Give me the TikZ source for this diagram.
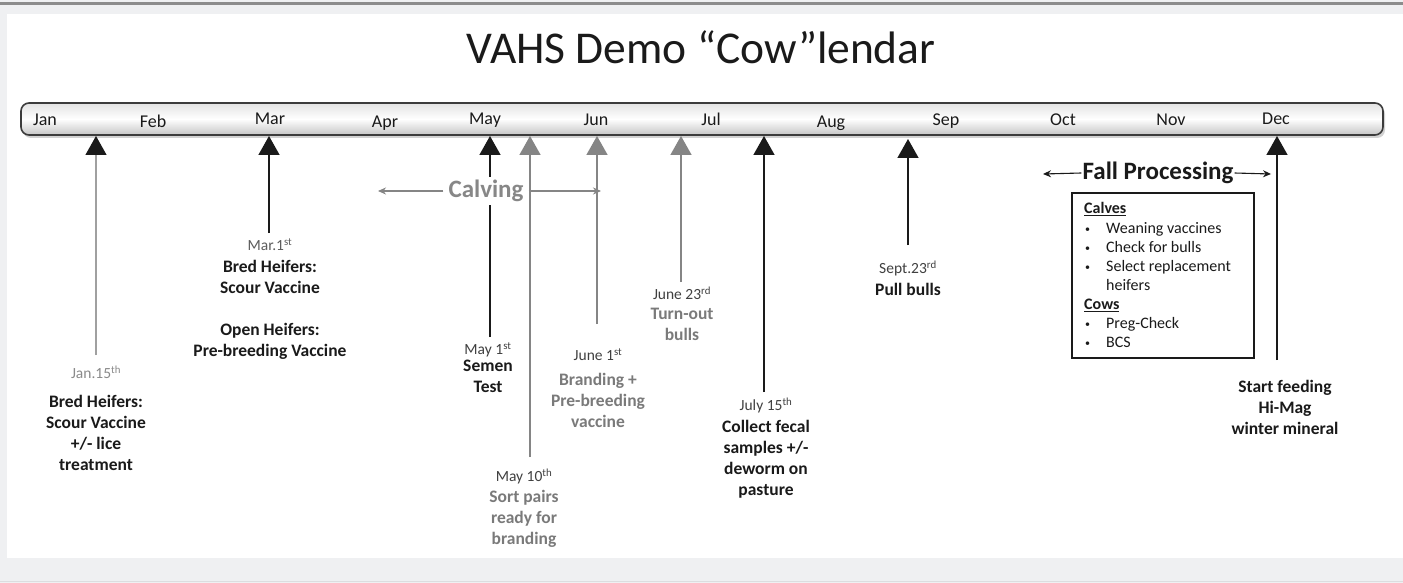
\documentclass[tikz,border=0pt]{standalone}
\usepackage{fontspec}
\setmainfont{Carlito}
\usetikzlibrary{arrows.meta,shadows}
\definecolor{pagegray}{HTML}{EFF0F2}
\definecolor{rulegray}{HTML}{8C8C8C}
\definecolor{inkblack}{HTML}{1A1A1A}
\definecolor{inkgray}{HTML}{858585}
\definecolor{thingray}{HTML}{A0A0A0}
\definecolor{txtgray}{HTML}{7A7A7A}
\definecolor{datedark}{HTML}{404040}
\definecolor{dategray}{HTML}{8A8A8A}
\newcommand{\smallbullet}{\makebox[22pt][l]{\hspace{1pt}\raisebox{1.5pt}{\fontsize{10}{10}\selectfont\textbullet}}}
\begin{document}
\begin{tikzpicture}[x=1pt,y=-1pt,
  month/.style={anchor=base,font=\fontsize{18}{20}\selectfont,text=inkblack,inner sep=0},
  datelbl/.style={anchor=north,font=\fontsize{15.5}{19}\selectfont,text=datedark,inner sep=0},
  body/.style={anchor=north,align=center,font=\bfseries\fontsize{17.5}{21}\selectfont,text=inkblack,inner sep=0},
  graybody/.style={body,text=txtgray},
  boxitem/.style={anchor=base west,font=\fontsize{16}{19}\selectfont,text=inkblack,inner sep=0},
  blackhead/.style={-{Triangle[width=21pt,length=19pt,fill=inkblack,color=inkblack]}},
  grayhead/.style={-{Triangle[width=21pt,length=19pt,fill=inkgray,color=inkgray]}},
  blackline/.style={blackhead,draw=inkblack,line width=1.5pt},
  grayline/.style={grayhead,draw=inkgray,line width=1.6pt},
  thinline/.style={blackhead,draw=thingray,line width=1.2pt},
  spanarrow/.style={-{Stealth[length=8pt,width=7pt]},line width=1.1pt}
]
\useasboundingbox (0,0) rectangle (1403,583);
% page frame
\fill[pagegray] (0,0) rectangle (1403,583);
\draw[rulegray,line width=3pt] (0,4) -- (1403,4);
\fill[white] (7,14) rectangle (1403,558);
\draw[pagegray!92!black,line width=1pt] (0,581) -- (1403,581);

% title
\node[anchor=base,font=\fontsize{45.5}{50}\selectfont,text=inkblack,inner sep=0] (title) at (701,64) {VAHS Demo “Cow”lendar};

% timeline bar
\path[rounded corners=8pt,draw=inkblack!85,line width=1.6pt,
  top color=gray!22,bottom color=gray!45,middle color=white,
  drop shadow={shadow xshift=2pt,shadow yshift=-3pt,opacity=0.35}]
  (21,103) rectangle (1383,135);
\node[name=bar,inner sep=0,minimum width=1362pt,minimum height=32pt] at (702,119) {};

% month labels
\node[month] (jan) at (45,126) {Jan};
\node[month] (feb) at (153,128) {Feb};
\node[month] (mar) at (270,125) {Mar};
\node[month] (apr) at (385,128) {Apr};
\node[month] (may) at (485,125) {May};
\node[month] (jun) at (596,126) {Jun};
\node[month] (jul) at (711,126) {Jul};
\node[month] (aug) at (831,128) {Aug};
\node[month] (sep) at (946,126) {Sep};
\node[month] (oct) at (1063,126) {Oct};
\node[month] (nov) at (1171,126) {Nov};
\node[month] (dec) at (1276,125) {Dec};

% arrow tips on the bar and the free ends of the event lines
\coordinate (tJan) at (96,136);   \coordinate (eJan) at (96,355);
\coordinate (tMar) at (269,136);  \coordinate (eMar) at (269,233);
\coordinate (tMayA) at (490,136); \coordinate (eMayA) at (490,337);
\coordinate (tMayB) at (530,136); \coordinate (eMayB) at (530,457);
\coordinate (tJunA) at (597,136); \coordinate (eJunA) at (597,324);
\coordinate (tJunB) at (681,136); \coordinate (eJunB) at (681,282);
\coordinate (tJul) at (764,136);  \coordinate (eJul) at (764,392);
\coordinate (tSep) at (908,139);  \coordinate (eSep) at (908,245);
\coordinate (tDec) at (1277,136); \coordinate (eDec) at (1277,360);

\draw[thinline] (eJan) -- (tJan);
\draw[blackline] (eMar) -- (tMar);
\draw[blackline] (eMayA) -- (tMayA);
\draw[grayline] (eMayB) -- (tMayB);
\draw[grayline] (eJunA) -- (tJunA);
\draw[grayline] (eJunB) -- (tJunB);
\draw[blackline] (eJul) -- (tJul);
\draw[blackline] (eSep) -- (tSep);
\draw[blackline] (eDec) -- (tDec);

% calving span
\node[fill=white,inner xsep=5pt,inner ysep=0,minimum height=28pt,
  font=\bfseries\fontsize{25}{28}\selectfont,text=txtgray!90] (calving) at (486,191) {Calving};
\coordinate (calvL) at (378,191);
\coordinate (calvR) at (601,191);
\draw[spanarrow,inkgray] (calving.west) -- (calvL);
\draw[spanarrow,inkgray] (calving.east) -- (calvR);

% fall processing span
\node[inner xsep=1pt,inner ysep=0,font=\bfseries\fontsize{25}{28}\selectfont,text=inkblack] (fall) at (1158,173) {Fall Processing};
\coordinate (fallL) at (1043,174);
\coordinate (fallR) at (1271,174);
\draw[spanarrow,inkblack] (fall.west) -- (fallL);
\draw[spanarrow,inkblack] (fall.east) -- (fallR);

% fall processing box
\node[draw=inkblack,line width=1.5pt,inner sep=0,minimum width=182pt,minimum height=165pt] (fallbox) at (1163,275.5) {};
\node[boxitem,font=\bfseries\fontsize{16}{19}\selectfont] (calves) at (1084,213.5) {\underline{Calves}};
\node[boxitem] (c1) at (1084,233.5) {\smallbullet Weaning vaccines};
\node[boxitem] (c2) at (1084,252.5) {\smallbullet Check for bulls};
\node[boxitem] (c3) at (1084,271.5) {\smallbullet Select replacement};
\node[boxitem] (c4) at (1084,290.5) {\makebox[22pt][l]{}heifers};
\node[boxitem,font=\bfseries\fontsize{16}{19}\selectfont] (cows) at (1084,309.5) {\underline{Cows}};
\node[boxitem] (w1) at (1084,328.5) {\smallbullet Preg-Check};
\node[boxitem] (w2) at (1084,347.5) {\smallbullet BCS};

% event annotations
\node[datelbl,text=dategray] (dJan) at (96,366) {Jan.15\textsuperscript{th}};
\node[body] (bJan) at (96,395) {Bred Heifers:\\Scour Vaccine\\+/- lice\\treatment};

\node[datelbl,text=datedark!85] (dMar) at (270,238) {Mar.1\textsuperscript{st}};
\node[body] (bMar) at (270,260) {Bred Heifers:\\Scour Vaccine\\[21pt]Open Heifers:\\Pre-breeding Vaccine};

\node[datelbl] (dMayA) at (488,342) {May 1\textsuperscript{st}};
\node[body] (bMayA) at (488,360) {Semen\\Test};

\node[datelbl] (dMayB) at (524,469) {May 10\textsuperscript{th}};
\node[graybody] (bMayB) at (524,490) {Sort pairs\\ready for\\branding};

\node[datelbl] (dJunA) at (598,348) {June 1\textsuperscript{st}};
\node[graybody] (bJunA) at (598,373) {Branding +\\Pre-breeding\\vaccine};

\node[datelbl] (dJunB) at (682,287) {June 23\textsuperscript{rd}};
\node[graybody] (bJunB) at (682,308) {Turn-out\\bulls};

\node[datelbl] (dJul) at (766,398) {July 15\textsuperscript{th}};
\node[body] (bJul) at (766,420) {Collect fecal\\samples +/-\\deworm on\\pasture};

\node[datelbl] (dSep) at (908,261) {Sept.23\textsuperscript{rd}};
\node[body] (bSep) at (908,283) {Pull bulls};

\node[body] (bDec) at (1285,380) {Start feeding\\Hi-Mag\\winter mineral};
\end{tikzpicture}
\end{document}
